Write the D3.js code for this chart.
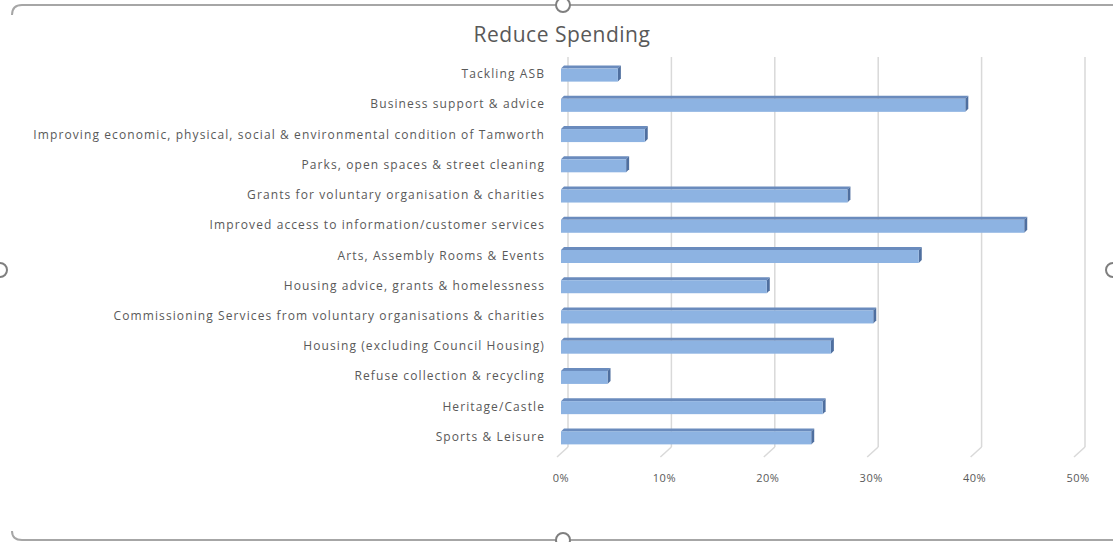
<!DOCTYPE html>
<html>
<head>
<meta charset="utf-8">
<script src="https://cdn.jsdelivr.net/npm/d3@7"></script>
<style>
  body { margin: 0; background: #fff; }
  text { font-family: "Open Sans", Lato, sans-serif; fill: #595959; }
</style>
</head>
<body>
<div class="chart"></div>
<script>
const width = 1113;
const height = 542;

const categories = [
  'Tackling ASB',
  'Business support & advice',
  'Improving economic, physical, social & environmental condition of Tamworth',
  'Parks, open spaces & street cleaning',
  'Grants for voluntary organisation & charities',
  'Improved access to information/customer services',
  'Arts, Assembly Rooms & Events',
  'Housing advice, grants & homelessness',
  'Commissioning Services from voluntary organisations & charities',
  'Housing (excluding Council Housing)',
  'Refuse collection & recycling',
  'Heritage/Castle',
  'Sports & Leisure'
];
const values = [0.055, 0.391, 0.081, 0.063, 0.277, 0.448, 0.346, 0.199, 0.302, 0.261, 0.045, 0.253, 0.242];
const ticks = [0, 0.1, 0.2, 0.3, 0.4, 0.5];

const svg = d3
  .select('.chart')
  .append('svg')
  .attr('width', width)
  .attr('height', height);

// selection frame round the chart
const frame = svg.append('g').attr('fill', 'none').attr('stroke', '#a6a6a6').attr('stroke-width', 2);
frame.append('path').attr('d', 'M12,15 Q12,5 22,5 L1113,5');
frame.append('path').attr('d', 'M12,531 Q12,540 22,540 L1113,540');
const handles = [[563, 5], [0, 270], [1113, 270], [563, 540]];
svg.selectAll('circle.handle')
  .data(handles)
  .enter()
  .append('circle')
  .attr('class', 'handle')
  .attr('cx', d => d[0])
  .attr('cy', d => d[1])
  .attr('r', 7)
  .attr('fill', '#fff')
  .attr('stroke', '#7f7f7f')
  .attr('stroke-width', 2);

svg.append('text')
  .attr('x', 562)
  .attr('y', 42)
  .attr('text-anchor', 'middle')
  .style('font-size', '21px')
  .style('letter-spacing', '0.5px')
  .text('Reduce Spending');

const x = d3.scaleLinear().domain([0, 0.5]).range([561, 1078]);
const y = d3.scaleBand().domain(categories).range([59, 452]);

// depth of the back wall
const dx = 7;
const dy = -9;
const floorY = 456;

const grid = svg.append('g');
grid.selectAll('line.grid')
  .data(ticks)
  .enter()
  .append('line')
  .attr('x1', d => x(d) + dx)
  .attr('x2', d => x(d) + dx)
  .attr('y1', floorY + dy)
  .attr('y2', 57)
  .attr('stroke', '#d9d9d9')
  .attr('stroke-width', 1.5);
grid.selectAll('line.floor')
  .data(ticks)
  .enter()
  .append('line')
  .attr('x1', d => x(d) - 4)
  .attr('x2', d => x(d) + dx)
  .attr('y1', floorY + 1)
  .attr('y2', floorY + dy)
  .attr('stroke', '#d9d9d9')
  .attr('stroke-width', 1.5);

svg.append('g')
  .selectAll('text')
  .data(ticks)
  .enter()
  .append('text')
  .attr('x', d => x(d))
  .attr('y', 482)
  .attr('text-anchor', 'middle')
  .style('font-size', '11px')
  .style('letter-spacing', '0.5px')
  .text(d3.format('.0%'));

// bars: front face plus top and side faces
const bh = 13;
const bd = 3;
const bars = svg.append('g')
  .selectAll('g')
  .data(categories)
  .enter()
  .append('g')
  .attr('transform', d => `translate(0,${y(d) + y.bandwidth() / 2 - bh / 2 + 1})`);

bars.append('path')
  .attr('fill', '#6a8bbd')
  .attr('d', (d, i) => `M${x(0)},0 L${x(0) + bd},${-bd} L${x(values[i]) + bd},${-bd} L${x(values[i])},0 Z`);
bars.append('path')
  .attr('fill', '#4f6f9f')
  .attr('d', (d, i) => `M${x(values[i])},0 L${x(values[i]) + bd},${-bd} L${x(values[i]) + bd},${bh - bd} L${x(values[i])},${bh} Z`);
bars.append('rect')
  .attr('x', x(0))
  .attr('y', 0)
  .attr('width', (d, i) => x(values[i]) - x(0))
  .attr('height', bh)
  .attr('fill', '#8db3e2');

svg.append('g')
  .selectAll('text')
  .data(categories)
  .enter()
  .append('text')
  .attr('x', 545)
  .attr('y', d => y(d) + y.bandwidth() / 2 + 4)
  .attr('text-anchor', 'end')
  .style('font-size', '12px')
  .style('letter-spacing', '1.1px')
  .text(d => d);
</script>
</body>
</html>
